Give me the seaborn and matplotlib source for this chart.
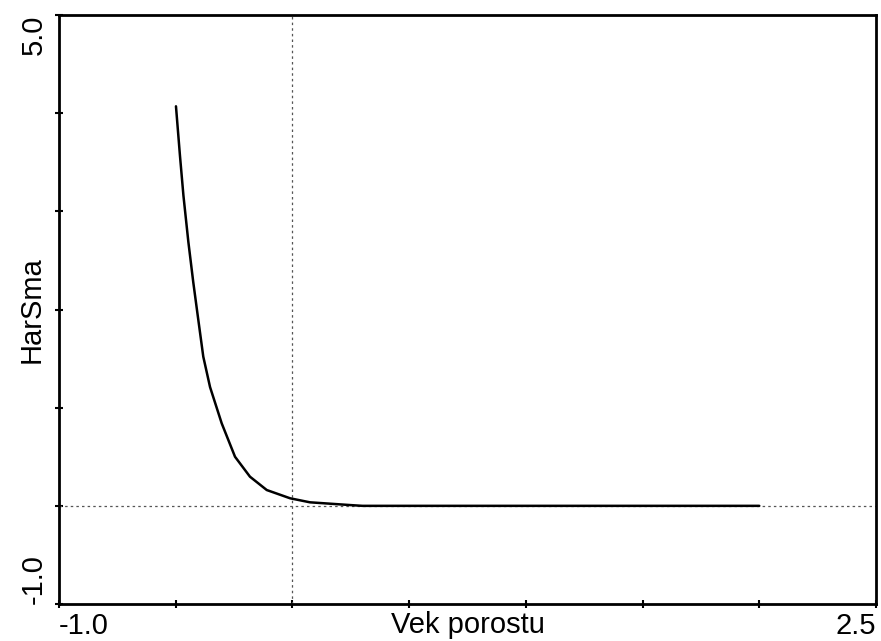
"""
Decay curve of HarSma against stand age (Vek porostu)
"""

import matplotlib
matplotlib.use("Agg")
import matplotlib.pyplot as plt
import seaborn as sns
import pandas as pd

# values
vek = [-0.499, -0.482, -0.467, -0.446, -0.425, -0.407, -0.382, -0.353,
       -0.303, -0.246, -0.182, -0.110, -0.010, 0.075, 0.247, 0.300, 2.000]
harsma = [4.07, 3.57, 3.16, 2.69, 2.28, 1.96, 1.52, 1.21,
          0.84, 0.50, 0.297, 0.161, 0.077, 0.036, 0.008, 0.0, 0.0]

x_ticks = [-1.0, -0.5, 0.0, 0.5, 1.0, 1.5, 2.0, 2.5]
x_labels = ["-1.0", "", "", "", "", "", "", "2.5"]
y_ticks = [-1.0, 0.0, 1.0, 2.0, 3.0, 4.0, 5.0]
y_labels = ["-1.0", "", "", "", "", "", "5.0"]

FS = 21


def setup_visualization():
    sns.set_style("white")
    plt.rcParams['font.family'] = ['Liberation Sans', 'DejaVu Sans']


def create_plot(output_path):
    df = pd.DataFrame({"Vek porostu": vek, "HarSma": harsma})

    fig = plt.figure(figsize=(8.81, 6.41), dpi=100)
    ax = fig.add_axes([0.067, 0.0577, 0.9273, 0.9189])

    ax.axhline(0, color="#555555", lw=0.9, ls=(0, (2, 2.5)), zorder=1)
    ax.axvline(0, color="#555555", lw=0.9, ls=(0, (2, 2.5)), zorder=1)

    sns.lineplot(data=df, x="Vek porostu", y="HarSma", sort=False,
                 estimator=None, color="black", lw=1.8, ax=ax, zorder=3)

    ax.set_xlim(-1.0, 2.5)
    ax.set_ylim(-1.0, 5.0)
    ax.set_xticks(x_ticks)
    ax.set_xticklabels(x_labels)
    ax.set_yticks(y_ticks)
    ax.set_yticklabels(y_labels)

    ax.tick_params(axis="both", direction="inout", length=6, width=1.5,
                   color="black", labelsize=FS, labelcolor="black")
    ax.tick_params(axis="x", bottom=True, top=False, pad=3)
    ax.tick_params(axis="y", left=True, right=False, pad=5, labelrotation=90)

    xl = ax.get_xticklabels()
    xl[0].set_ha("left")
    xl[-1].set_ha("right")
    yl = ax.get_yticklabels()
    yl[0].set_va("bottom")
    yl[-1].set_va("top")

    for side in ax.spines.values():
        side.set_color("black")
        side.set_linewidth(2)

    ax.set_xlabel("Vek porostu", fontsize=FS, color="black")
    ax.set_ylabel("HarSma", fontsize=FS, color="black")
    ax.xaxis.set_label_coords(0.5, -0.012)
    ax.yaxis.set_label_coords(-0.017, 0.5)

    fig.savefig(output_path, dpi=100)
    plt.close(fig)


setup_visualization()
create_plot("out.png")
